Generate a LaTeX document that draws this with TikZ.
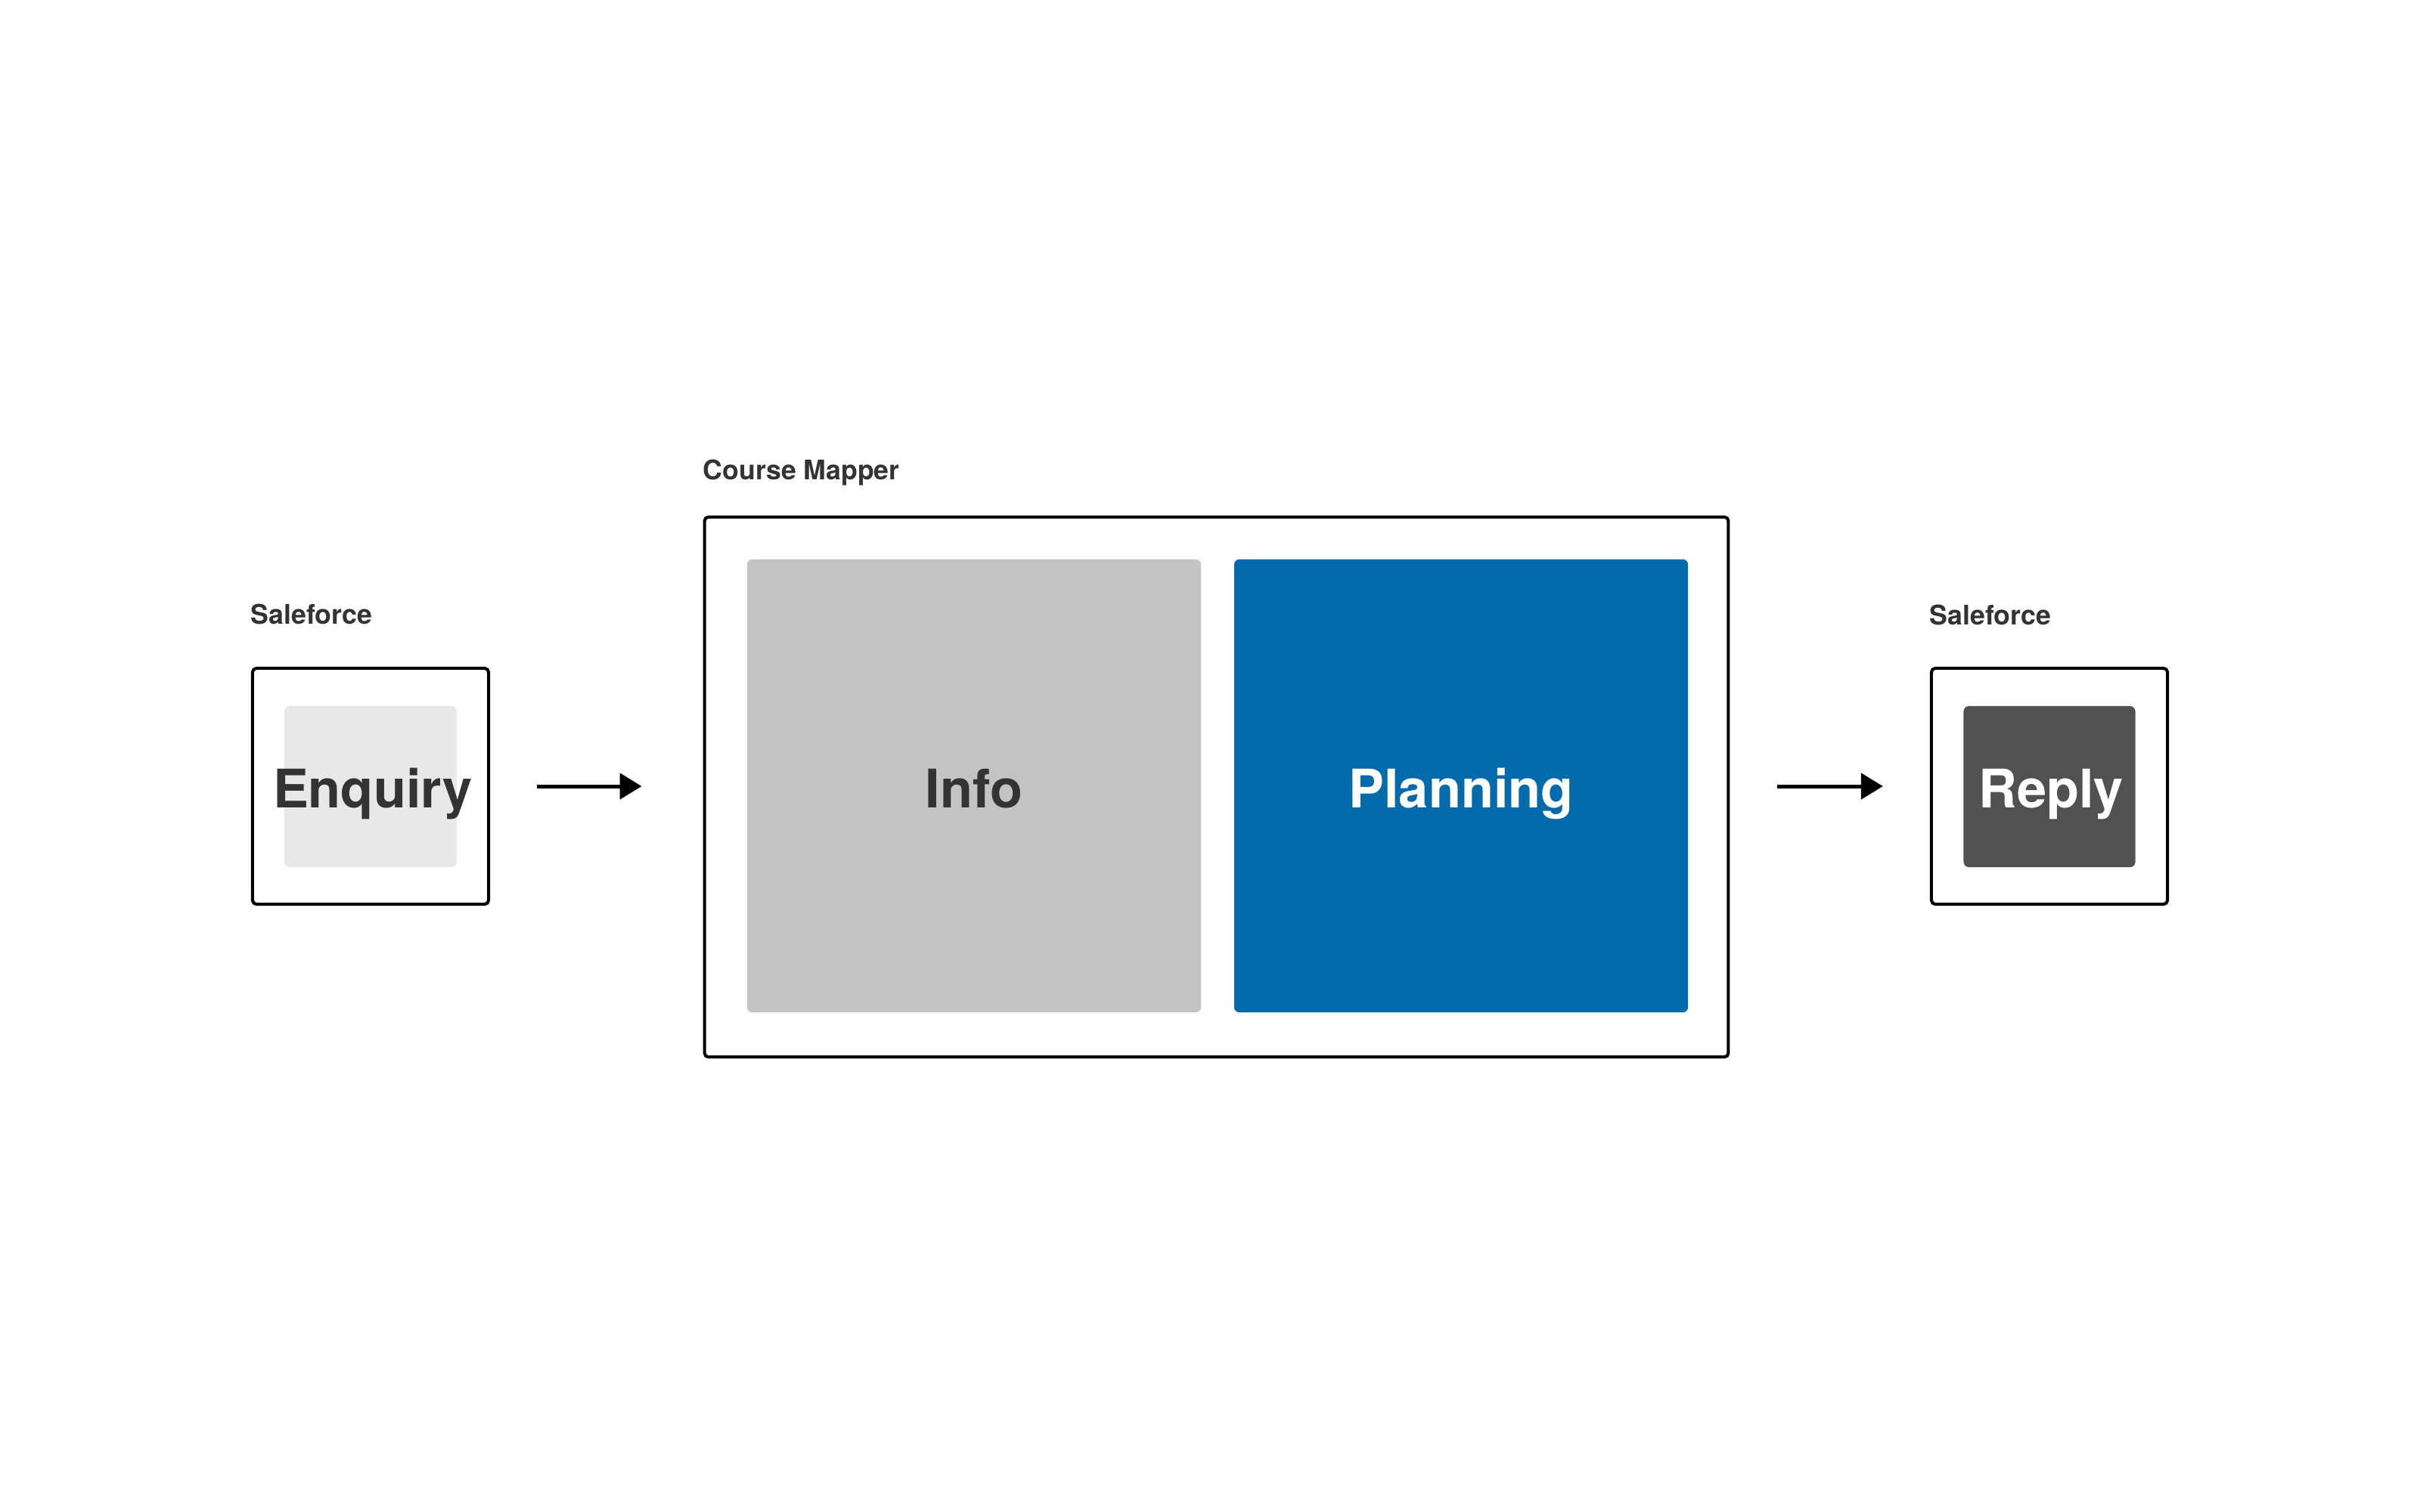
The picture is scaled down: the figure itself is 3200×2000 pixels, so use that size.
\documentclass[tikz,border=0pt]{standalone}
\usepackage{fontspec}
\setmainfont{TeX Gyre Heros}
\usetikzlibrary{arrows.meta}
\definecolor{txt}{HTML}{333333}
\definecolor{enqfill}{HTML}{E8E8E8}
\definecolor{infofill}{HTML}{C4C4C4}
\definecolor{planfill}{HTML}{036BAC}
\definecolor{replyfill}{HTML}{515151}
\tikzset{
  outerbox/.style={draw=black, line width=1.15pt, rounded corners=1.5pt, fill=white,
    inner sep=0pt, outer sep=0pt},
  innerbox/.style={draw=none, rounded corners=2pt, inner sep=0pt, outer sep=0pt},
  bigtext/.style={font=\fontsize{20pt}{24pt}\selectfont\bfseries, text=txt, inner sep=0pt, anchor=base},
  grouplabel/.style={font=\fontsize{10.15pt}{12pt}\selectfont\bfseries, text=txt, inner sep=0pt, anchor=base west},
  flow/.style={line width=1.42pt, -{Triangle[length=2.9mm, width=3.4mm]}}
}
\begin{document}
\begin{tikzpicture}[x=0.01cm, y=-0.01cm]
\useasboundingbox (0,0) rectangle (3200,2000);
% left Saleforce
\node[grouplabel] (lbl1) at (331,825) {Saleforce};
\node[outerbox, minimum width=3.12cm, minimum height=3.12cm] (enqout) at (490,1040) {};
\node[innerbox, fill=enqfill, minimum width=2.28cm, minimum height=2.13cm] (enqin) at (490,1040.5) {};
\node[bigtext] (enqt) at (493,1068) {Enquiry};
% Course Mapper
\node[grouplabel] (lbl2) at (929,634) {Course Mapper};
\node[outerbox, minimum width=13.53cm, minimum height=7.14cm] (cm) at (1608.5,1041) {};
\node[innerbox, fill=infofill, minimum width=6.00cm, minimum height=5.99cm] (info) at (1288,1039.5) {};
\node[bigtext] (infot) at (1288,1068) {Info};
\node[innerbox, fill=planfill, minimum width=6.00cm, minimum height=5.99cm] (plan) at (1932,1039.5) {};
\node[bigtext, text=white] (plant) at (1932,1068) {Planning};
% right Saleforce
\node[grouplabel] (lbl3) at (2551,826) {Saleforce};
\node[outerbox, minimum width=3.12cm, minimum height=3.12cm] (repout) at (2710,1040) {};
\node[innerbox, fill=replyfill, minimum width=2.27cm, minimum height=2.13cm] (repin) at (2710,1040.5) {};
\node[bigtext, text=white] (rept) at (2712,1068) {Reply};
% arrows
\draw[flow, shorten <=0.64cm, shorten >=0.83cm] (enqout.east) -- (enqout.east -| cm.west);
\draw[flow, shorten <=0.65cm, shorten >=0.64cm] (cm.east |- repout.west) -- (repout.west);
\end{tikzpicture}
\end{document}
